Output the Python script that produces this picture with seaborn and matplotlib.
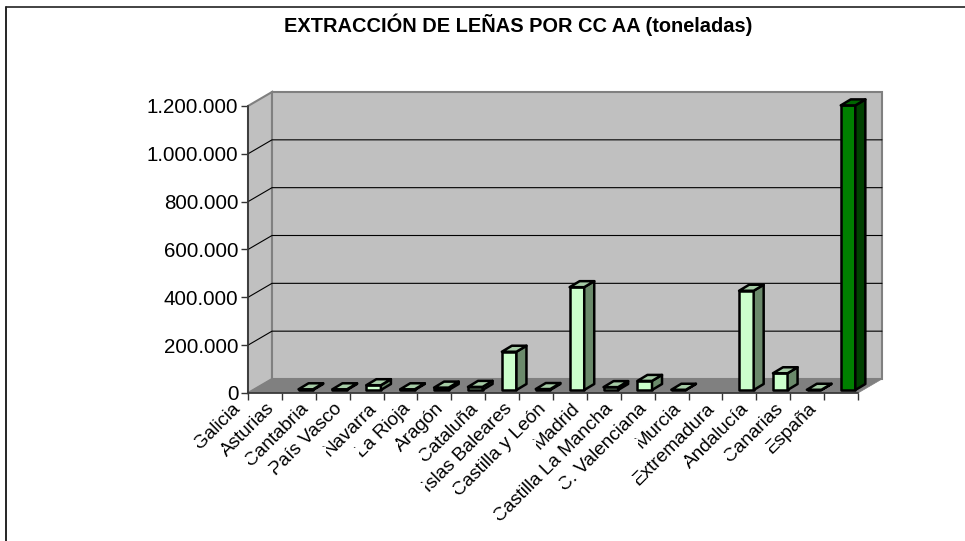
import matplotlib
matplotlib.use('Agg')
import matplotlib.pyplot as plt
from matplotlib.lines import Line2D
from matplotlib.patches import Polygon, Rectangle
import seaborn as sns

# Data
categories = ['Galicia', 'Asturias', 'Cantabria', 'País Vasco', 'Navarra', 'La Rioja', 'Aragón', 'Cataluña',
              'Islas Baleares', 'Castilla y León', 'Madrid', 'Castilla La Mancha', 'C. Valenciana', 'Murcia',
              'Extremadura', 'Andalucía', 'Canarias', 'España']
values = [0, 3000, 3000, 20000, 3000, 10000, 13000, 160000, 4000, 430000, 12000, 38000, 1000, 0, 415000, 70000, 1000, 1190000]
yticks = [0, 200000, 400000, 600000, 800000, 1000000, 1200000]

W, H = 965, 541
sns.set_style('white')
plt.rcParams['font.family'] = ['Liberation Sans', 'DejaVu Sans']

fig = plt.figure(figsize=(W / 100, H / 100), dpi=100)
ax = fig.add_axes([248 / W, 1 - 393 / H, 610 / W, 287 / H])

colors = ['#CCFFCC'] * 17 + ['#008000']
sides = ['#6B8A6B'] * 17 + ['#004000']
tops = ['#A6CCA6'] * 17 + ['#006600']

sns.barplot(x=categories, y=values, hue=categories, palette=colors, legend=False, width=0.43, saturation=1,
            edgecolor='black', linewidth=1.8, ax=ax, zorder=5)
ax.set_xlim(-0.5, 17.5)
ax.set_ylim(0, 1200000)
ax.set_xlabel('')
ax.set_ylabel('')

# pixel sizes to data units
px_x = 18 / 610
px_y = 1200000 / 287
wall_dx, wall_dy = 24 * px_x, 14 * px_y
bar_dx, bar_dy = 7 * px_x, 3 * px_y
side_dx, side_dy = 10 * px_x, 6 * px_y

# walls and floor of the 3D box
x0, x1 = -0.5, 17.5
y1 = yticks[-1]
ax.add_patch(Polygon([(x0, 0), (x0 + wall_dx, wall_dy), (x0 + wall_dx, y1 + wall_dy), (x0, y1)], closed=True,
                     facecolor='#C0C0C0', edgecolor='#808080', linewidth=1.5, clip_on=False, zorder=1))
ax.add_patch(Polygon([(x0 + wall_dx, wall_dy), (x1 + wall_dx, wall_dy), (x1 + wall_dx, y1 + wall_dy), (x0 + wall_dx, y1 + wall_dy)],
                     closed=True, facecolor='#C0C0C0', edgecolor='#808080', linewidth=1.5, clip_on=False, zorder=1))
ax.add_patch(Polygon([(x0, 0), (x1, 0), (x1 + wall_dx, wall_dy), (x0 + wall_dx, wall_dy)], closed=True,
                     facecolor='#808080', edgecolor='#808080', linewidth=0.5, clip_on=False, zorder=2))

# gridlines run over the left wall and the back wall
for t in yticks[1:-1]:
    ax.plot([x0, x0 + wall_dx, x1 + wall_dx], [t, t + wall_dy, t + wall_dy], color='black', linewidth=0.8,
            clip_on=False, zorder=3)

# turn seaborn's flat bars into boxes
bars = [p for p in ax.patches if isinstance(p, Rectangle)]
for p, side, top in zip(bars, sides, tops):
    if p.get_height() == 0:
        p.set_visible(False)
        continue
    p.set_x(p.get_x() + bar_dx)
    p.set_y(bar_dy)
    p.set_clip_on(False)
    p.set_joinstyle('round')
    a, b = p.get_x(), p.get_x() + p.get_width()
    h = p.get_height() + bar_dy
    ax.add_patch(Polygon([(b, bar_dy), (b + side_dx, bar_dy + side_dy), (b + side_dx, h + side_dy), (b, h)], closed=True,
                         facecolor=side, edgecolor='black', linewidth=1.8, joinstyle='round', clip_on=False, zorder=5))
    ax.add_patch(Polygon([(a, h), (b, h), (b + side_dx, h + side_dy), (a + side_dx, h + side_dy)], closed=True,
                         facecolor=top, edgecolor='black', linewidth=1.8, joinstyle='round', clip_on=False, zorder=5))

# axes
sns.despine(ax=ax, top=True, right=True)
for s in ['left', 'bottom']:
    ax.spines[s].set_color('#333333')
    ax.spines[s].set_linewidth(1.2)
    ax.spines[s].set_zorder(6)
ax.set_yticks(yticks)
ax.set_yticklabels([f'{t:,}'.replace(',', '.') for t in yticks], fontsize=14.8, color='black')
ax.set_xticks([i - 0.5 for i in range(len(categories) + 1)])
ax.set_xticklabels([])
ax.tick_params(axis='both', which='major', length=5, width=1, color='#333333', left=True, bottom=True, pad=2)

# category labels sit left of their slot, rotated 45 degrees
labels = []
for i, name in enumerate(categories):
    labels.append(ax.annotate(name, xy=(i - 0.5, 0), xytext=(-16, -7), textcoords='offset pixels', rotation=45,
                              rotation_mode='anchor', ha='right', va='top', fontsize=13.7, color='black',
                              annotation_clip=False))

fig.text(518 / W, 1 - 25 / H, 'EXTRACCIÓN DE LEÑAS POR CC AA (toneladas)', ha='center', va='center',
         fontsize=14.4, fontweight='bold', color='black')

# chart frame: only left and top reach inside the image
fig.add_artist(Line2D([6 / W, 6 / W], [0, 1 - 7 / H], color='black', linewidth=1.2))
fig.add_artist(Line2D([6 / W, 1], [1 - 7 / H, 1 - 7 / H], color='#222222', linewidth=1.2))

# first letter of each label is cut off in the source image
fig.canvas.draw()
for t in labels:
    bb = t.get_window_extent()
    fig.add_artist(Rectangle((bb.x0 - 1, bb.y0 - 1), 7, 14, transform=None, facecolor='white', edgecolor='none', zorder=10))

fig.savefig('out.png', dpi=100)
